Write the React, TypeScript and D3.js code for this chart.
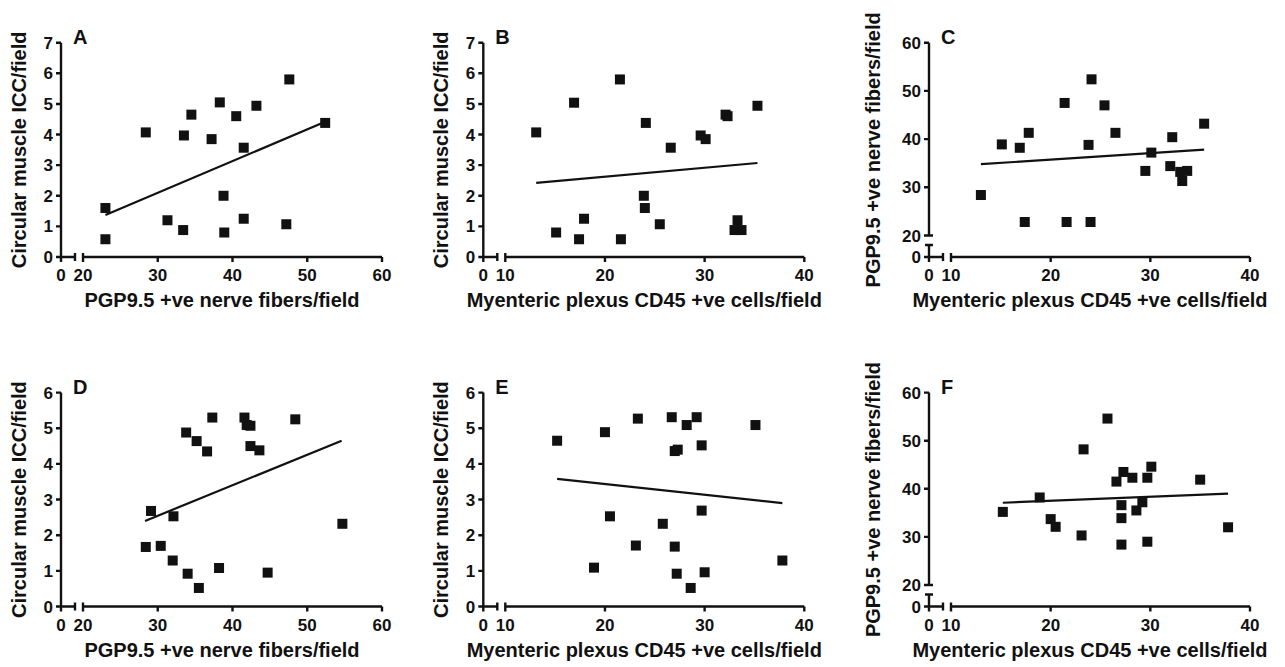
import React from "react";
import * as d3 from "d3";

// tick values
const xTicksPgp = [0, 20, 30, 40, 50, 60];
const xTicksCd45 = [0, 10, 20, 30, 40];
const yTicksIcc7 = [0, 1, 2, 3, 4, 5, 6, 7];
const yTicksIcc6 = [0, 1, 2, 3, 4, 5, 6];
const yTicksPgp = [0, 20, 30, 40, 50, 60];

const labelPgp = "PGP9.5 +ve nerve fibers/field";
const labelCd45 = "Myenteric plexus CD45 +ve cells/field";
const labelIcc = "Circular muscle ICC/field";

const letters = ["A", "B", "C", "D", "E", "F"];

// points: [x, y]
const pointsA = [
  [23, 1.6], [23, 0.58], [28.4, 4.07], [31.3, 1.2], [33.4, 0.88], [33.5, 3.97],
  [34.5, 4.65], [37.2, 3.85], [38.3, 5.05], [38.8, 2.0], [38.9, 0.8], [40.5, 4.6],
  [41.5, 3.57], [41.5, 1.25], [43.2, 4.94], [47.2, 1.07], [47.6, 5.8], [52.4, 4.38],
];
const pointsB = [
  [13.1, 4.07], [15.1, 0.8], [16.9, 5.04], [17.4, 0.58], [17.9, 1.25], [21.5, 5.8],
  [21.6, 0.58], [23.9, 2.0], [24.0, 1.6], [24.1, 4.38], [25.5, 1.07], [26.6, 3.57],
  [29.6, 3.97], [30.1, 3.85], [32.1, 4.65], [32.3, 4.6], [33.3, 1.2], [33.0, 0.88],
  [33.7, 0.88], [35.3, 4.94],
];
const pointsC = [
  [13.0, 28.4], [15.1, 38.9], [16.9, 38.2], [17.4, 22.8], [17.8, 41.3], [21.4, 47.5],
  [21.6, 22.8], [23.8, 38.8], [24.0, 22.8], [24.1, 52.4], [25.4, 47.0], [26.5, 41.3],
  [29.5, 33.4], [30.1, 37.2], [32.0, 34.4], [32.2, 40.4], [33.0, 33.2], [33.2, 31.3],
  [33.7, 33.4], [35.4, 43.2],
];
const pointsD = [
  [28.4, 1.67], [29.1, 2.68], [30.4, 1.7], [32.0, 1.29], [32.1, 2.53], [33.8, 4.88],
  [34.0, 0.92], [35.2, 4.64], [35.5, 0.52], [36.6, 4.35], [37.3, 5.3], [38.2, 1.08],
  [41.6, 5.3], [41.9, 5.09], [42.4, 5.07], [42.4, 4.5], [43.6, 4.38], [44.7, 0.95],
  [48.4, 5.25], [54.7, 2.32],
];
const pointsE = [
  [15.2, 4.65], [18.9, 1.09], [20.0, 4.89], [20.5, 2.53], [23.1, 1.71], [23.3, 5.27],
  [25.8, 2.32], [26.7, 5.31], [27.0, 1.68], [27.0, 4.36], [27.3, 4.4], [27.2, 0.92],
  [28.2, 5.09], [28.6, 0.52], [29.2, 5.31], [29.7, 4.52], [29.7, 2.69], [30.0, 0.96],
  [35.1, 5.09], [37.8, 1.29],
];
const pointsF = [
  [15.2, 35.2], [18.9, 38.2], [20.0, 33.7], [20.5, 32.1], [23.1, 30.3], [23.3, 48.2],
  [25.7, 54.6], [26.6, 41.5], [27.1, 36.6], [27.1, 33.9], [27.1, 28.4], [27.3, 43.5],
  [28.2, 42.3], [28.6, 35.5], [29.2, 37.2], [29.7, 42.3], [29.7, 29.0], [30.1, 44.6],
  [35.0, 41.9], [37.8, 32.0],
];

// fitted lines as drawn: [[x0, y0], [x1, y1]]
const trendA = [[23, 1.37], [52.4, 4.42]];
const trendB = [[13.1, 2.42], [35.3, 3.07]];
const trendC = [[13.0, 34.8], [35.4, 37.8]];
const trendD = [[28.3, 2.4], [54.6, 4.65]];
const trendE = [[15.2, 3.58], [37.8, 2.9]];
const trendF = [[15.2, 37.1], [37.8, 39.0]];

const panels = [
  { points: pointsA, trend: trendA, xTicks: xTicksPgp, yTicks: yTicksIcc7, xLabel: labelPgp, yLabel: labelIcc },
  { points: pointsB, trend: trendB, xTicks: xTicksCd45, yTicks: yTicksIcc7, xLabel: labelCd45, yLabel: labelIcc },
  { points: pointsC, trend: trendC, xTicks: xTicksCd45, yTicks: yTicksPgp, xLabel: labelCd45, yLabel: labelPgp },
  { points: pointsD, trend: trendD, xTicks: xTicksPgp, yTicks: yTicksIcc6, xLabel: labelPgp, yLabel: labelIcc },
  { points: pointsE, trend: trendE, xTicks: xTicksCd45, yTicks: yTicksIcc6, xLabel: labelCd45, yLabel: labelIcc },
  { points: pointsF, trend: trendF, xTicks: xTicksCd45, yTicks: yTicksPgp, xLabel: labelCd45, yLabel: labelPgp },
];

const colX = [61, 483.3, 929];
const rowBase = [257, 606.5];
const rowTop = [42.7, 392.6];
const ink = "#111";
const font = "'Liberation Sans', Arial, Helvetica, sans-serif";

function hasBreak(t: number[]) {
  return t[1] - t[0] !== t[2] - t[1];
}

function Panel({ p, i }: { p: any; i: number }) {
  const x0 = colX[i % 3];
  const base = rowBase[Math.floor(i / 3)];
  const top = rowTop[Math.floor(i / 3)];
  const xt: number[] = p.xTicks;
  const yt: number[] = p.yTicks;
  const xLast = xt[xt.length - 1];
  const yLast = yt[yt.length - 1];

  const x = d3.scaleLinear().domain([0, xt[1], xLast]).range([x0, x0 + 22, x0 + 321]);
  const yBreak = hasBreak(yt);
  const y = yBreak
    ? d3.scaleLinear().domain([0, yt[1], yLast]).range([base, base - 21.5, top])
    : d3.scaleLinear().domain([0, yLast]).range([base, top]);

  const line = d3.line<number[]>().x((d) => x(d[0])).y((d) => y(d[1]));

  const axisParts: string[] = [];
  // y axis
  if (yBreak) {
    const y20 = y(yt[1]);
    axisParts.push(`M${x0},${top}V${y20}`, `M${x0 - 4},${y20}H${x0 + 4}`);
    axisParts.push(`M${x0},${base}V${base - 12}`, `M${x0 - 4},${base - 12}H${x0 + 4}`);
  } else {
    axisParts.push(`M${x0},${top}V${base}`);
  }
  yt.forEach((v) => axisParts.push(`M${x0 - 5},${y(v)}H${x0}`));
  // x axis with break
  axisParts.push(`M${x0},${base}H${x0 + 14}`, `M${x0 + 14},${base - 4}V${base + 4}`);
  const xs = x(xt[1]);
  axisParts.push(`M${xs},${base}H${x(xLast)}`, `M${xs},${base - 4}V${base + 4}`);
  xt.forEach((v) => axisParts.push(`M${x(v)},${base}V${base + 5}`));

  const yLabelX = yBreak ? x0 - 49 : x0 - 35;
  const yMid = (top + base) / 2;

  return (
    <g>
      <path d={axisParts.join("")} stroke={ink} strokeWidth={2.4} fill="none" />
      {yt.map((v) => (
        <text key={"y" + v} x={x0 - 8} y={y(v) + 6} textAnchor="end" fontSize={17}>
          {v}
        </text>
      ))}
      {xt.map((v) => (
        <text key={"x" + v} x={x(v)} y={base + 24} textAnchor="middle" fontSize={17}>
          {v}
        </text>
      ))}
      <text x={x0 + 161} y={base + 50} textAnchor="middle" fontSize={20}>
        {p.xLabel}
      </text>
      <text
        transform={`translate(${yLabelX},${yMid}) rotate(-90)`}
        textAnchor="middle"
        fontSize={20}
      >
        {p.yLabel}
      </text>
      <text x={x0 + 12} y={top + 1} fontSize={20}>
        {letters[i]}
      </text>
      <path d={line(p.trend) || ""} stroke={ink} strokeWidth={2.2} fill="none" />
      {p.points.map((d: number[], k: number) => (
        <rect key={k} x={x(d[0]) - 5} y={y(d[1]) - 5} width={10} height={10} fill={ink} />
      ))}
    </g>
  );
}

export default function App() {
  return (
    <div style={{ position: "absolute", left: 0, top: 0 }}>
      <svg width={1285} height={667} style={{ display: "block", background: "#fff" }}>
        <g fontFamily={font} fontWeight="bold" fill={ink}>
          {panels.map((p, i) => (
            <Panel key={i} p={p} i={i} />
          ))}
        </g>
      </svg>
    </div>
  );
}
